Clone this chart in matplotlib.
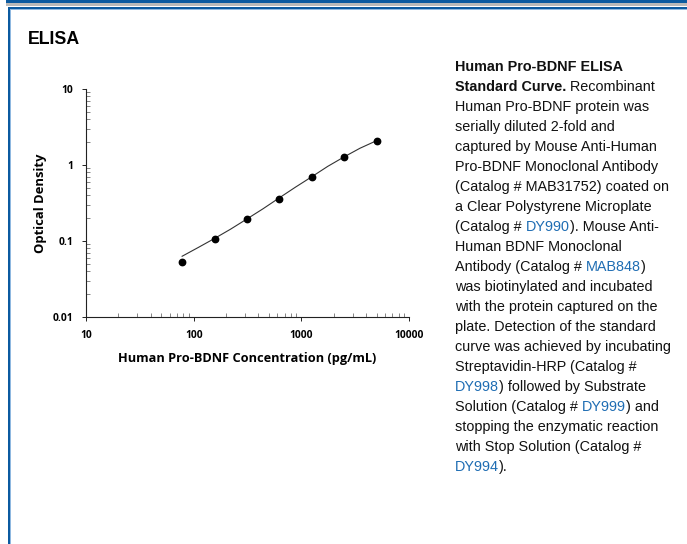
import matplotlib
matplotlib.use("Agg")
import matplotlib.pyplot as plt
from matplotlib.patches import Rectangle

W, H = 687, 544

# standard curve data
conc = [78.125, 156.25, 312.5, 625, 1250, 2500, 5000]
od = [0.053, 0.106, 0.197, 0.36, 0.695, 1.29, 2.09]
curve_x = [78.125, 110, 156.25, 220, 312.5, 440, 625, 880, 1250, 1760, 2500, 3500, 5000]
curve_y = [0.063, 0.082, 0.108, 0.143, 0.195, 0.265, 0.37, 0.51, 0.70, 0.96, 1.28, 1.66, 2.09]
xticks = [10, 100, 1000, 10000]
yticks = [0.01, 0.1, 1, 10]
xtick_labels = ["10", "100", "1000", "10000"]
ytick_labels = ["0.01", "0.1", "1", "10"]

BLUE = "#0b5aa0"
LINK = "#1f6db3"

fig = plt.figure(figsize=(W / 100, H / 100), dpi=100)


def fx(x):
    return x / W


def fy(y):
    return 1 - y / H


def rect(x0, y0, x1, y1, color):
    fig.add_artist(Rectangle((fx(x0), fy(y1)), fx(x1) - fx(x0), fy(y0) - fy(y1),
                             transform=fig.transFigure, color=color, lw=0))


# page frame
rect(6, 0, W, 3.2, BLUE)
rect(6, 3.5, W, 5.8, "#b9b9b9")
rect(7.5, 7, W, 9, BLUE)
rect(9.5, 9, W, 10, "#8fb8e0")
rect(7.5, 7, 10, H, BLUE)
rect(10, 9, 11, H, "#8fb8e0")

fig.text(fx(28), fy(44), "ELISA", fontsize=12.8, fontweight="bold",
         family="Liberation Sans", va="baseline")

# chart
ax = fig.add_axes([fx(86), fy(317), fx(409) - fx(86), fy(89) - fy(317)])
ax.plot(curve_x, curve_y, color="#333333", lw=0.8, zorder=2)
ax.plot(conc, od, "o", color="black", ms=4.6, zorder=3)
ax.set_xscale("log")
ax.set_yscale("log")
ax.set_xlim(10, 10000)
ax.set_ylim(0.01, 10)
ax.set_xticks(xticks, xtick_labels)
ax.set_yticks(yticks, ytick_labels)
for s in ["top", "right"]:
    ax.spines[s].set_visible(False)
for s in ["left", "bottom"]:
    ax.spines[s].set_linewidth(0.8)
    ax.spines[s].set_color("#222222")
ax.tick_params(which="major", direction="out", length=3, width=0.7,
               labelsize=7.4, colors="#222222")
ax.tick_params(axis="x", which="major", pad=6)
ax.tick_params(axis="y", which="major", pad=6)
ax.tick_params(which="minor", direction="in", length=3, width=0.5, colors="#555555")
for t in ax.get_xticklabels() + ax.get_yticklabels():
    t.set_fontfamily("Open Sans")
    t.set_fontweight("bold")
    t.set_color("black")
ax.set_xlabel("Human Pro-BDNF Concentration (pg/mL)", fontsize=9.2,
              fontweight="bold", family="Open Sans", labelpad=8)
ax.set_ylabel("Optical Density", fontsize=9.4, fontweight="bold",
              family="Open Sans", labelpad=4)

# description text, drawn line by line so catalog numbers can be blue
lines = [
    [("Human Pro-BDNF ELISA", "b")],
    [("Standard Curve.", "b"), (" Recombinant", "n")],
    [("Human Pro-BDNF protein was", "n")],
    [("serially diluted 2-fold and", "n")],
    [("captured by Mouse Anti-Human", "n")],
    [("Pro-BDNF Monoclonal Antibody", "n")],
    [("(Catalog # MAB31752) coated on", "n")],
    [("a Clear Polystyrene Microplate", "n")],
    [("(Catalog # ", "n"), ("DY990", "l"), ("). Mouse Anti-", "n")],
    [("Human BDNF Monoclonal", "n")],
    [("Antibody (Catalog # ", "n"), ("MAB848", "l"), (")", "n")],
    [("was biotinylated and incubated", "n")],
    [("with the protein captured on the", "n")],
    [("plate. Detection of the standard", "n")],
    [("curve was achieved by incubating", "n")],
    [("Streptavidin-HRP (Catalog #", "n")],
    [("DY998", "l"), (") followed by Substrate", "n")],
    [("Solution (Catalog # ", "n"), ("DY999", "l"), (") and", "n")],
    [("stopping the enzymatic reaction", "n")],
    [("with Stop Solution (Catalog #", "n")],
    [("DY994", "l"), (").", "n")],
]

fig.canvas.draw()
r = fig.canvas.get_renderer()
for i, segs in enumerate(lines):
    x = 455
    y = 67 + i * 20
    for txt, kind in segs:
        t = fig.text(fx(x), fy(y), txt, fontsize=10.4, family="Liberation Sans",
                     fontweight="bold" if kind == "b" else "normal",
                     color=LINK if kind == "l" else "#111111", va="center")
        bb = t.get_window_extent(renderer=r)
        x += bb.width

fig.savefig("out.png", dpi=100)
